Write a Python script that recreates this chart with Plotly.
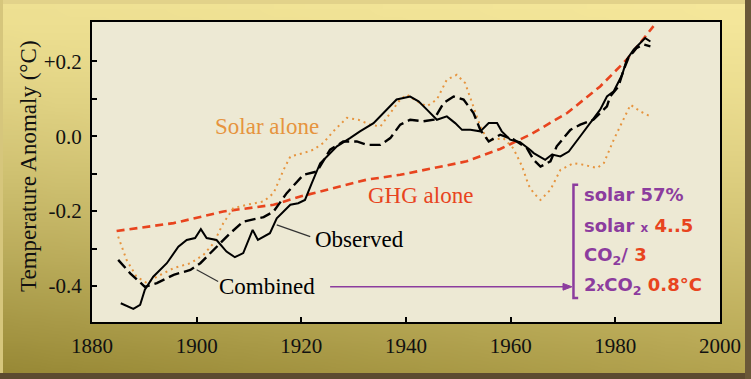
import zlib, struct, base64
import plotly.graph_objects as go

# ---------------- data ----------------
obs_years = [1885.5, 1887.9, 1889.2, 1890.1, 1891.7, 1894.3, 1896.5, 1898.1, 1899.7, 1900.8,
             1901.9, 1903.8, 1905.7, 1907.3, 1908.9, 1910.7, 1911.7, 1914.0, 1915.3, 1917.9,
             1919.4, 1920.7, 1922.0, 1923.6, 1924.9, 1926.8, 1929.3, 1931.2, 1933.8, 1936.3,
             1938.2, 1940.8, 1942.4, 1944.0, 1945.9, 1947.8, 1949.4, 1950.7, 1952.3, 1954.2,
             1955.8, 1957.4, 1958.3, 1959.9, 1961.8, 1963.7, 1964.4, 1966.6, 1967.9, 1969.5,
             1971.1, 1973.3, 1975.2, 1977.1, 1978.4, 1979.7, 1981.3, 1982.2, 1983.5, 1984.8,
             1985.7, 1986.7]
obs_vals = [-0.446, -0.461, -0.45, -0.41, -0.375, -0.339, -0.295, -0.277, -0.272, -0.248,
            -0.272, -0.277, -0.308, -0.323, -0.312, -0.25, -0.277, -0.259, -0.219, -0.183,
            -0.179, -0.17, -0.125, -0.072, -0.054, -0.027, -0.005, 0.013, 0.035, 0.071,
            0.098, 0.106, 0.093, 0.071, 0.044, 0.053, 0.035, 0.017, 0.017, 0.013,
            0.035, 0.035, 0.013, -0.009, -0.016, -0.036, -0.045, -0.063, -0.049, -0.054,
            -0.041, 0.0, 0.035, 0.071, 0.106, 0.12, 0.164, 0.205, 0.231, 0.249,
            0.262, 0.253]

comb_years = [1885.0, 1887.3, 1890.1, 1892.4, 1895.6, 1898.8, 1900.7, 1903.2, 1906.4, 1908.9,
              1912.8, 1914.7, 1917.2, 1920.4, 1923.0, 1925.5, 1928.0, 1930.6, 1932.5, 1935.1,
              1937.0, 1938.9, 1940.8, 1943.3, 1945.3, 1947.2, 1949.1, 1951.0, 1952.9, 1954.2,
              1955.8, 1958.0, 1960.6, 1963.1, 1964.4, 1965.7, 1967.6, 1968.8, 1971.4, 1973.3,
              1975.8, 1977.1, 1978.4, 1979.0, 1980.6, 1981.6, 1982.5, 1984.1, 1985.4, 1986.7]
comb_vals = [-0.33, -0.366, -0.402, -0.392, -0.37, -0.357, -0.339, -0.303, -0.259, -0.228,
             -0.216, -0.201, -0.152, -0.103, -0.094, -0.036, -0.014, -0.014, -0.023, -0.023,
             -0.005, 0.031, 0.044, 0.04, 0.044, 0.089, 0.106, 0.098, 0.062, 0.017,
             -0.014, 0.004, -0.009, -0.032, -0.063, -0.081, -0.067, -0.027, 0.017, 0.031,
             0.044, 0.062, 0.08, 0.106, 0.133, 0.178, 0.209, 0.236, 0.245, 0.24]

solar_years = [1885.0, 1886.6, 1888.5, 1890.5, 1892.4, 1895.6, 1898.8, 1901.3, 1903.2, 1905.1,
               1907.0, 1909.6, 1912.8, 1914.7, 1916.6, 1917.9, 1920.4, 1922.3, 1924.2, 1926.1,
               1928.7, 1930.9, 1933.1, 1935.1, 1937.0, 1938.9, 1940.2, 1942.1, 1944.0, 1945.9,
               1947.8, 1949.7, 1951.3, 1952.9, 1954.2, 1955.4, 1956.7, 1958.6, 1960.5, 1962.2,
               1963.4, 1964.4, 1965.7, 1967.6, 1969.5, 1972.0, 1973.9, 1976.5, 1977.8, 1979.7,
               1981.6, 1982.9, 1984.8, 1986.7]
solar_vals = [-0.268, -0.33, -0.375, -0.392, -0.375, -0.352, -0.339, -0.317, -0.286, -0.232,
              -0.192, -0.183, -0.174, -0.152, -0.09, -0.054, -0.045, -0.036, -0.018, 0.013,
              0.049, 0.044, 0.031, 0.026, 0.062, 0.098, 0.111, 0.093, 0.08, 0.098,
              0.151, 0.164, 0.142, 0.08, 0.026, -0.005, -0.009, -0.005, -0.032, -0.081,
              -0.13, -0.152, -0.17, -0.143, -0.09, -0.072, -0.076, -0.085, -0.072, -0.009,
              0.044, 0.084, 0.066, 0.053]

ghg_years = [1884.7, 1895.6, 1905.1, 1914.7, 1919.8, 1926.1, 1932.5, 1938.9, 1945.3, 1951.6,
             1958.0, 1963.7, 1970.8, 1977.1, 1982.2, 1987.3]
ghg_vals = [-0.253, -0.232, -0.201, -0.183, -0.161, -0.139, -0.116, -0.103, -0.085, -0.067,
            -0.034, 0.004, 0.062, 0.133, 0.205, 0.294]

x_ticks = [1880, 1900, 1920, 1940, 1960, 1980, 2000]
y_ticks = [0.2, 0.0, -0.2, -0.4]
y_ticktext = ["+0.2", "0.0", "-0.2", "-0.4"]
y_minor = [0.1, -0.1, -0.3]

# ---------------- styling ----------------
W, H = 751, 379
ML, MR, MT, MB = 92, 31, 22, 57
PW, PH = W - ML - MR, H - MT - MB
SERIF = "Liberation Serif, Times New Roman, serif"
SANS = "DejaVu Sans, Verdana, sans-serif"
PURPLE = "#8C3C9E"
RED = "#E8441E"
ORANGE = "#E6943E"
CREAM = "#EDE9D4"


def xp(px):
    return (px - ML) / PW


def yp(py):
    return (H - MB - py) / PH


def png_uri(w, h, fn):
    rows = []
    for j in range(h):
        row = bytearray([0])
        for i in range(w):
            row.extend(fn(i / (w - 1), j / (h - 1)))
        rows.append(bytes(row))
    raw = b"".join(rows)

    def chunk(t, d):
        return struct.pack(">I", len(d)) + t + d + struct.pack(">I", zlib.crc32(t + d) & 0xffffffff)
    png = (b"\x89PNG\r\n\x1a\n" + chunk(b"IHDR", struct.pack(">IIBBBBB", w, h, 8, 2, 0, 0, 0))
           + chunk(b"IDAT", zlib.compress(raw)) + chunk(b"IEND", b""))
    return "data:image/png;base64," + base64.b64encode(png).decode()


TL, TR, BL, BR = (238, 224, 146), (245, 231, 155), (152, 137, 54), (180, 164, 80)


def grad(u, v):
    vv = v ** 1.3
    return [int(round((a * (1 - u) + b * u) * (1 - vv) + (c * (1 - u) + d * u) * vv))
            for a, b, c, d in zip(TL, TR, BL, BR)]


bg_uri = png_uri(48, 24, grad)

fig = go.Figure()
fig.add_trace(go.Scatter(x=ghg_years, y=ghg_vals, mode="lines",
                         line=dict(color=RED, width=2.6, dash="8px,5px"), name="GHG alone"))
fig.add_trace(go.Scatter(x=solar_years, y=solar_vals, mode="lines",
                         line=dict(color=ORANGE, width=2, dash="2px,4px"), name="Solar alone"))
fig.add_trace(go.Scatter(x=comb_years, y=comb_vals, mode="lines",
                         line=dict(color="black", width=2.4, dash="11px,5px"), name="Combined"))
fig.add_trace(go.Scatter(x=obs_years, y=obs_vals, mode="lines",
                         line=dict(color="black", width=2), name="Observed"))

shapes = [
    # cream plotting area
    dict(type="rect", xref="paper", yref="paper", x0=0, x1=1, y0=0, y1=1,
         fillcolor=CREAM, line=dict(width=0), layer="below"),
    # frame bevels
    dict(type="rect", xref="paper", yref="paper", x0=xp(0), x1=xp(W), y0=yp(H), y1=yp(373),
         fillcolor="#5C4B30", line=dict(width=0), layer="below"),
    dict(type="rect", xref="paper", yref="paper", x0=xp(745), x1=xp(W), y0=yp(H), y1=yp(0),
         fillcolor="#6A5838", line=dict(width=0), layer="below"),
    dict(type="rect", xref="paper", yref="paper", x0=xp(0), x1=xp(745), y0=yp(4), y1=yp(0),
         fillcolor="#E2D28A", line=dict(width=0), layer="below"),
    dict(type="rect", xref="paper", yref="paper", x0=xp(0), x1=xp(3), y0=yp(373), y1=yp(0),
         fillcolor="#D6C67C", line=dict(width=0), layer="below"),
    # leader lines
    dict(type="line", xref="x", yref="y", x0=1915.3, y0=-0.2365, x1=1921.7, y1=-0.268,
         line=dict(color="#333333", width=1.2)),
    dict(type="line", xref="x", yref="y", x0=1900.0, y0=-0.3566, x1=1904.1, y1=-0.388,
         line=dict(color="#333333", width=1.2)),
    # purple arrow (shaft + head)
    dict(type="line", xref="x", yref="y", x0=1925.5, y0=-0.402, x1=1970.6, y1=-0.402,
         line=dict(color=PURPLE, width=1.5)),
    dict(type="path", xref="x", yref="y",
         path="M 1971.7 -0.402 L 1970.0 -0.393 L 1970.0 -0.411 Z",
         fillcolor=PURPLE, line=dict(color=PURPLE, width=1)),
    # purple bracket
    dict(type="path", xref="x", yref="y",
         path="M 1972.9 -0.1297 L 1972.0 -0.1297 L 1972.0 -0.432 L 1972.9 -0.432",
         line=dict(color=PURPLE, width=2.5)),
]

annotations = [
    dict(x=1913.46, y=0.025, text="Solar alone", showarrow=False, xanchor="center", yanchor="middle",
         font=dict(family=SERIF, size=23, color=ORANGE)),
    dict(x=1942.7, y=-0.159, text="GHG alone", showarrow=False, xanchor="center", yanchor="middle",
         font=dict(family=SERIF, size=23, color=RED)),
    dict(x=1922.3, y=-0.277, text="Observed", showarrow=False, xanchor="left", yanchor="middle",
         font=dict(family=SERIF, size=23, color="black")),
    dict(x=1903.8, y=-0.401, text="Combined", showarrow=False, xanchor="left", yanchor="middle",
         font=dict(family=SERIF, size=23, color="black")),
    # purple text block
    dict(x=1973.6, y=-0.156, text="solar 57%", showarrow=False, xanchor="left", yanchor="middle",
         font=dict(family=SANS, size=18, color=PURPLE, weight="bold")),
    dict(x=1973.6, y=-0.237,
         text="solar <span style='font-size:12px'>x</span> <span style='color:%s'>4..5</span>" % RED,
         showarrow=False, xanchor="left", yanchor="middle",
         font=dict(family=SANS, size=18, color=PURPLE, weight="bold")),
    dict(x=1973.6, y=-0.321,
         text="CO<sub>2</sub>/ <span style='color:%s'>3</span>" % RED,
         showarrow=False, xanchor="left", yanchor="middle",
         font=dict(family=SANS, size=18, color=PURPLE, weight="bold")),
    dict(x=1973.6, y=-0.401,
         text="2<span style='font-size:12px'>x</span>CO<sub>2</sub> <span style='color:%s'>0.8°C</span>" % RED,
         showarrow=False, xanchor="left", yanchor="middle",
         font=dict(family=SANS, size=18, color=PURPLE, weight="bold")),
    # y-axis title
    dict(xref="paper", yref="paper", x=xp(28), y=yp(166), text="Temperature Anomaly (°C)",
         textangle=-90, showarrow=False, xanchor="center", yanchor="middle",
         font=dict(family=SERIF, size=23, color="#111111")),
]

fig.update_layout(
    width=W, height=H,
    margin=dict(l=ML, r=MR, t=MT, b=MB, pad=0),
    paper_bgcolor="#B8A855",
    plot_bgcolor="rgba(0,0,0,0)",
    showlegend=False,
    shapes=shapes,
    annotations=annotations,
    images=[dict(source=bg_uri, xref="paper", yref="paper", x=xp(0), y=yp(0),
                 sizex=W / PW, sizey=H / PH, xanchor="left", yanchor="top",
                 sizing="stretch", layer="below")],
    xaxis=dict(range=[1880, 2000], tickvals=x_ticks, ticks="inside", ticklen=5, tickwidth=2,
               tickcolor="black", showline=True, linewidth=2, linecolor="black", mirror=True,
               showgrid=False, zeroline=False, ticklabelstandoff=4, automargin=False,
               tickfont=dict(family=SERIF, size=21, color="#111111")),
    yaxis=dict(range=[-0.496, 0.305], tickvals=y_ticks, ticktext=y_ticktext, ticks="inside",
               ticklen=5, tickwidth=2, tickcolor="black", showline=True, linewidth=2,
               linecolor="black", mirror=True, showgrid=False, zeroline=False,
               ticklabelstandoff=4, automargin=False,
               minor=dict(tickvals=y_minor, ticks="inside", ticklen=5, tickwidth=2,
                          tickcolor="black", showgrid=False),
               tickfont=dict(family=SERIF, size=21, color="#111111")),
)

fig.write_html("out.html", config={"displayModeBar": False},
               post_script="document.body.style.margin='0px';document.body.style.padding='0px';")
